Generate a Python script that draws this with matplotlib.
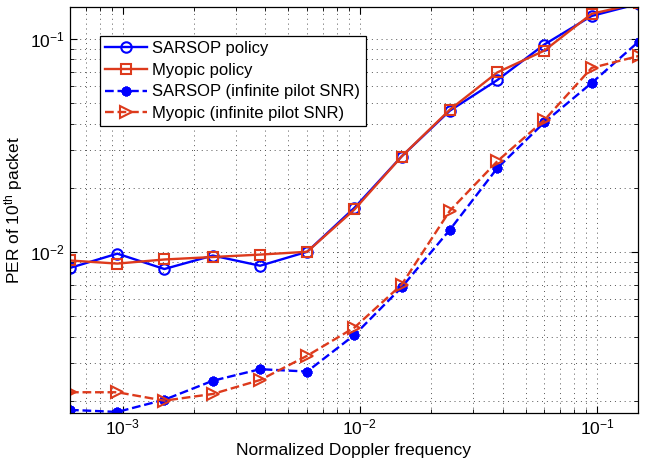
import matplotlib
matplotlib.use("Agg")
import matplotlib.pyplot as plt

# datos
doppler = [6e-4, 9.5e-4, 1.5e-3, 2.4e-3, 3.8e-3, 6e-3, 9.5e-3,
           1.5e-2, 2.4e-2, 3.8e-2, 6e-2, 9.5e-2, 1.5e-1]

sarsop = [8.4e-3, 9.8e-3, 8.3e-3, 9.6e-3, 8.6e-3, 1.0e-2, 1.61e-2,
          2.8e-2, 4.6e-2, 6.4e-2, 9.4e-2, 1.28e-1, 1.46e-1]
miopico = [9.1e-3, 8.8e-3, 9.2e-3, 9.45e-3, 9.7e-3, 1.0e-2, 1.58e-2,
           2.8e-2, 4.65e-2, 6.95e-2, 8.8e-2, 1.31e-1, 1.47e-1]
sarsop_inf = [1.81e-3, 1.77e-3, 2.02e-3, 2.48e-3, 2.81e-3, 2.74e-3, 4.07e-3,
              6.8e-3, 1.27e-2, 2.47e-2, 4.05e-2, 6.2e-2, 9.7e-2]
miopico_inf = [2.19e-3, 2.19e-3, 2.0e-3, 2.15e-3, 2.5e-3, 3.25e-3, 4.41e-3,
               7.0e-3, 1.56e-2, 2.66e-2, 4.15e-2, 7.3e-2, 8.3e-2]

etiquetas = ["SARSOP policy", "Myopic policy",
             "SARSOP (infinite pilot SNR)", "Myopic (infinite pilot SNR)"]

azul = "#0000ff"
rojo = "#dd3a1c"

plt.rcParams["font.family"] = ["Liberation Sans", "DejaVu Sans"]
plt.rcParams["mathtext.fontset"] = "custom"
plt.rcParams["mathtext.rm"] = "Liberation Sans"
plt.rcParams["mathtext.it"] = "Liberation Sans"

fig = plt.figure(figsize=(6.54, 4.66), dpi=100)
ax = fig.add_axes([70 / 654, 1 - 413 / 466, 568 / 654, 406 / 466])

ax.plot(doppler, sarsop, "-", color=azul, lw=1.7, marker="o", ms=7.5,
        mfc="none", mew=1.5, label=etiquetas[0])
ax.plot(doppler, miopico, "-", color=rojo, lw=1.7, marker="s", ms=6.5,
        mfc="none", mew=1.5, label=etiquetas[1])
ax.plot(doppler, sarsop_inf, "--", color=azul, lw=1.7, marker=(8, 2, 0), ms=7,
        mew=2.2, label=etiquetas[2])
ax.plot(doppler, miopico_inf, "--", color=rojo, lw=1.7, marker=">", ms=8,
        mfc="none", mew=1.5, label=etiquetas[3])

ax.set_xscale("log")
ax.set_yscale("log")
ax.set_xlim(6e-4, 0.149)
ax.set_ylim(1.75e-3, 0.141)

ax.grid(True, which="both", linestyle=(0, (1, 4)), color="#555555", lw=0.7)
ax.tick_params(which="both", direction="in", top=True, right=True,
               labelsize=12.5, colors="black")
ax.tick_params(which="major", length=5)
ax.tick_params(which="minor", length=3)
for s in ax.spines.values():
    s.set_linewidth(0.9)

ax.set_xlabel("Normalized Doppler frequency", fontsize=12.5)
ax.set_ylabel("PER of 10$^{th}$ packet", fontsize=12.5)

leg = ax.legend(loc="upper left", bbox_to_anchor=(30 / 568, 1 - 29 / 406),
                borderaxespad=0, fontsize=12, fancybox=False, framealpha=1,
                edgecolor="black", handlelength=2.5, labelspacing=0.4,
                borderpad=0.3, handletextpad=0.35)
leg.get_frame().set_linewidth(0.9)

fig.savefig("out.png", dpi=100)
